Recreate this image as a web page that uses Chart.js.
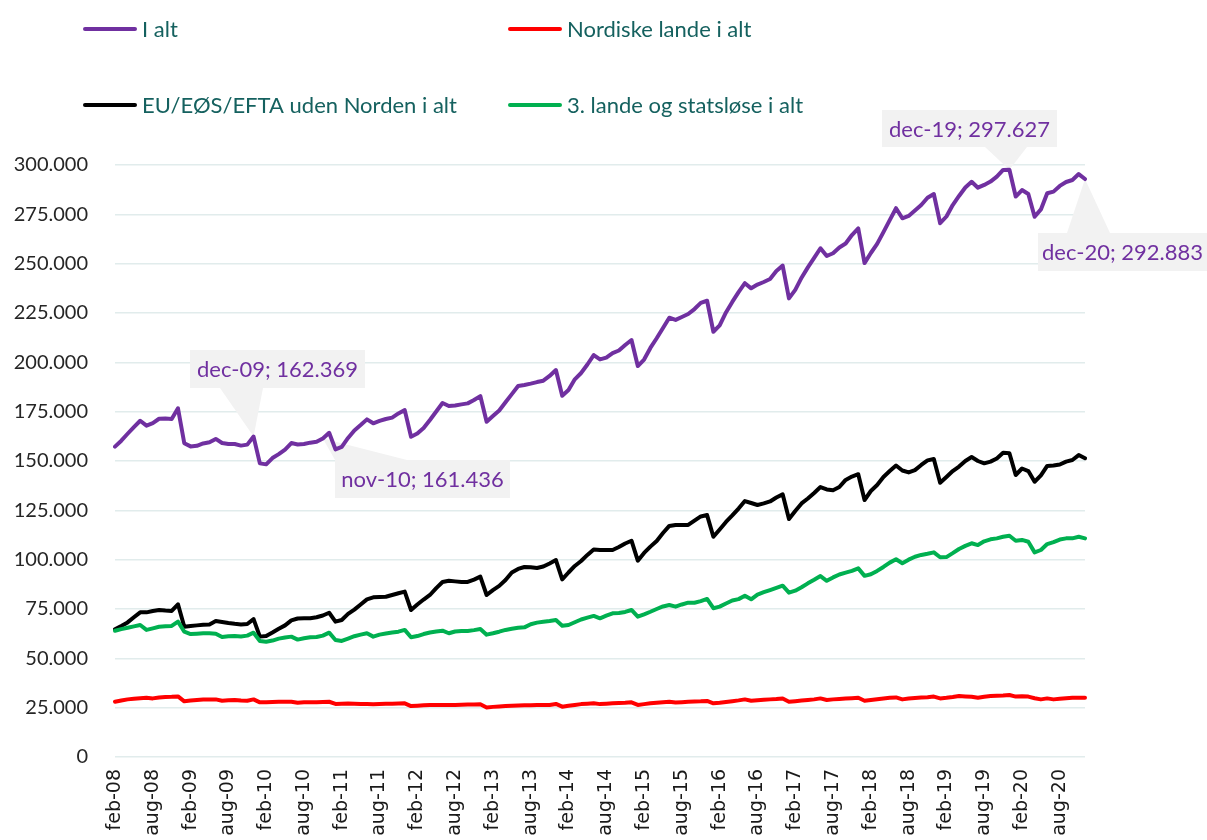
<!DOCTYPE html>
<html>
<head>
<meta charset="utf-8">
<script src="https://cdn.jsdelivr.net/npm/chart.js@4.4.1/dist/chart.umd.min.js"></script>
<style>
html,body{margin:0;padding:0;background:#ffffff;overflow:hidden;}
#wrap{position:relative;width:1207px;height:840px;}
</style>
</head>
<body>
<div id="wrap"><canvas id="c" width="1207" height="840"></canvas></div>
<script>
// ---------- DATA ----------
const monthNames = ['jan','feb','mar','apr','maj','jun','jul','aug','sep','okt','nov','dec'];
const yearLabels = ['08','09','10','11','12','13','14','15','16','17','18','19','20'];
const firstMonthIndex = 1; // series starts feb-08

const seriesNames = ['I alt','Nordiske lande i alt','EU/EØS/EFTA uden Norden i alt','3. lande og statsløse i alt'];

const iAlt = [
 157300,160300,163800,167200,170400,167900,169200,171400,171500,171300,176700,
 159000,157400,157700,158900,159500,161200,159100,158600,158600,157800,158300,162369,
 148800,148300,151500,153500,155800,159100,158400,158600,159300,159700,161436,164300,
 155900,157200,161700,165500,168200,171100,169100,170300,171300,172000,174100,175800,
 162300,163900,166700,170800,175100,179400,177900,178100,178700,179200,180900,182900,
 169900,172800,175600,179800,183900,188000,188500,189200,190000,190700,193100,196100,
 183100,186000,191400,194600,198900,203700,201500,202400,204700,206000,208800,211300,
 198100,201400,207300,212200,217400,222600,221500,223000,224500,227000,230100,231200,
 215500,218700,225300,230600,235600,240100,237500,239400,240700,242200,246300,249000,
 232400,236700,242900,248100,252900,257800,253900,255300,258200,260200,264500,267900,
 250300,255400,260000,266000,272100,278100,273000,274200,276900,279700,283400,285300,
 270500,273900,279700,284300,288600,291500,288500,289900,291600,294100,297500,297627,
 284000,287300,285300,273800,277500,285700,286500,289400,291400,292400,295400,292883
];

const nordiske = [
 28000,28600,29200,29500,29800,30000,29700,30200,30400,30500,30700,
 28200,28600,28900,29100,29200,29200,28500,28700,28900,28600,28500,29200,
 27700,27800,27900,28000,28000,28000,27500,27700,27800,27800,27900,28000,
 26900,27000,27100,27000,26900,26800,26700,26900,27000,27000,27100,27200,
 25800,26000,26200,26400,26400,26400,26300,26400,26500,26600,26600,26700,
 25100,25400,25600,25800,26000,26100,26200,26200,26300,26400,26400,26900,
 25500,26000,26400,26800,27000,27200,26800,27000,27200,27400,27500,27700,
 26400,26800,27200,27500,27800,28000,27600,27800,28000,28100,28200,28400,
 27200,27500,27900,28300,28700,29200,28500,28800,29000,29200,29400,29700,
 28000,28300,28600,28900,29200,29700,28900,29200,29400,29600,29800,30000,
 28500,28900,29300,29700,30000,30200,29200,29600,29900,30100,30300,30600,
 29700,30000,30400,30900,30700,30500,30000,30500,30900,31100,31200,31400,
 30600,30800,30600,29800,29200,29700,29200,29500,29800,30000,30000,30000
];

const euEoes = [
 64700,66400,68200,70800,73300,73300,74000,74500,74200,74000,77400,
 66000,66400,66700,67000,67200,68900,68400,67900,67500,67200,67400,69900,
 61000,61300,63100,65000,66700,69200,70200,70300,70300,70800,71700,73100,
 68600,69400,72500,74700,77300,79900,80900,81100,81200,82100,83000,83800,
 74500,77300,79800,82100,85600,88700,89300,89000,88700,88700,89900,91400,
 82100,84600,86700,89700,93500,95300,96300,96100,95800,96500,98100,99800,
 90000,93500,96800,99300,102400,105200,104900,104900,104900,106400,108200,109600,
 99500,103400,106600,109500,113500,117100,117600,117600,117600,119800,121900,122600,
 111600,115300,119100,122400,125900,129700,128700,127700,128500,129500,131500,133100,
 120600,124700,128500,131000,133800,136800,135600,135200,136800,140400,142100,143300,
 130200,134800,137800,141900,144900,147700,145200,144200,145400,148000,150300,151000,
 139000,141900,144900,147200,150000,152000,150000,148800,149700,151300,154200,153900,
 142900,146200,144900,139500,142700,147500,147700,148200,149700,150500,153000,151400
];

const tredjeLande = [
 64000,64800,65500,66200,66900,64400,65200,66000,66200,66400,68600,
 63500,62300,62500,62700,62700,62500,60800,61200,61300,61100,61500,63000,
 58800,58400,59000,60000,60600,61000,59500,60200,60700,60800,61500,63000,
 59300,58800,60000,61200,62000,62700,61000,62000,62600,63100,63500,64400,
 60700,61300,62300,63100,63600,64000,62700,63600,63900,63900,64300,64900,
 62000,62700,63500,64400,65000,65500,65700,67300,68100,68500,68900,69400,
 66500,66900,68300,69700,70600,71500,70300,71600,72800,73000,73500,74500,
 71100,72300,73600,75000,76300,77000,76200,77300,78200,78200,79000,80100,
 75400,76200,77800,79300,80000,81700,79900,82300,83500,84600,85700,86800,
 83300,84300,86000,88000,89800,91700,89300,91000,92500,93400,94300,95600,
 91800,92600,94300,96300,98500,100200,98200,100000,101500,102400,103000,103700,
 101200,101300,103300,105400,107000,108300,107400,109300,110300,110800,111600,112100,
 109600,110000,109100,103700,104900,107900,108900,110200,110800,110800,111600,110800
];

// category labels "feb-08" ... "dec-20"
const categories = [];
yearLabels.forEach((yy, yi) => {
  monthNames.forEach((m, mi) => {
    if (yi === 0 && mi < firstMonthIndex) return;
    categories.push(m + '-' + yy);
  });
});

const yTicks = [0,25000,50000,75000,100000,125000,150000,175000,200000,225000,250000,275000,300000];
const xTickEvery = 6;
const calloutIndices = [22, 33, 142, 154];

// ---------- STYLE ----------
const colors = ['#7030A0','#FF0000','#000000','#00B050'];
const fmt = v => String(Math.round(v)).replace(/\B(?=(\d{3})+(?!\d))/g, '.');

const legendPos = [
  {x:83, y:29}, {x:508, y:29}, {x:83, y:105}, {x:508, y:105}
];
const calloutBoxes = [
  {x:190, y:350, w:175, h:38, side:'bottom', b0:220, b1:263},
  {x:335, y:460, w:175, h:38, side:'top', b0:335, b1:407},
  {x:882, y:110, w:175, h:37, side:'bottom', b0:985, b1:1027},
  {x:1038, y:233, w:169, h:38, side:'top', b0:1067, b1:1110}
];

const legendPlugin = {
  id: 'gridLegend',
  afterDraw(chart) {
    const ctx = chart.ctx;
    ctx.save();
    chart.data.datasets.forEach((ds, i) => {
      const p = legendPos[i];
      ctx.strokeStyle = ds.borderColor;
      ctx.lineWidth = 4;
      ctx.lineCap = 'round';
      ctx.beginPath();
      ctx.moveTo(p.x + 2, p.y);
      ctx.lineTo(p.x + 52, p.y);
      ctx.stroke();
      ctx.fillStyle = '#15615F';
      ctx.font = '22px Lato';
      ctx.textBaseline = 'middle';
      ctx.textAlign = 'left';
      ctx.fillText(ds.label, p.x + 59, p.y + 1);
    });
    ctx.restore();
  }
};

const calloutPlugin = {
  id: 'callouts',
  beforeDatasetsDraw(chart) {
    const ctx = chart.ctx;
    const xs = chart.scales.x, ys = chart.scales.y;
    ctx.save();
    calloutIndices.forEach((idx, k) => {
      const b = calloutBoxes[k];
      const val = iAlt[idx];
      const tx = xs.getPixelForValue(idx);
      const ty = ys.getPixelForValue(val);
      ctx.fillStyle = '#F2F2F2';
      ctx.fillRect(b.x, b.y, b.w, b.h);
      const ey = b.side === 'bottom' ? b.y + b.h : b.y;
      ctx.beginPath();
      ctx.moveTo(b.b0, ey);
      ctx.lineTo(tx, ty);
      ctx.lineTo(b.b1, ey);
      ctx.closePath();
      ctx.fill();
      ctx.fillStyle = '#7030A0';
      ctx.font = '22px Lato';
      ctx.textAlign = 'center';
      ctx.textBaseline = 'middle';
      ctx.fillText(categories[idx] + '; ' + fmt(val), b.x + b.w / 2, b.y + b.h / 2 + 1);
    });
    ctx.restore();
  }
};

const seriesData = [iAlt, nordiske, euEoes, tredjeLande];
const drawOrder = [4, 3, 2, 1];

new Chart(document.getElementById('c'), {
  type: 'line',
  data: {
    labels: categories,
    datasets: seriesData.map((d, i) => ({
      label: seriesNames[i],
      data: d,
      borderColor: colors[i],
      backgroundColor: colors[i],
      borderWidth: 4,
      pointRadius: 0,
      pointHoverRadius: 0,
      tension: 0,
      fill: false,
      borderJoinStyle: 'round',
      borderCapStyle: 'round',
      order: drawOrder[i]
    }))
  },
  options: {
    responsive: false,
    animation: false,
    devicePixelRatio: 1,
    layout: { padding: { top: 165, right: 122, left: 0, bottom: 0 } },
    plugins: {
      legend: { display: false },
      tooltip: { enabled: false }
    },
    scales: {
      x: {
        type: 'category',
        offset: false,
        grid: { display: false, drawTicks: false },
        border: { display: false },
        ticks: {
          autoSkip: false,
          maxRotation: 90,
          minRotation: 90,
          padding: 12,
          color: '#1a1a1a',
          font: { family: 'DejaVu Sans', size: 19 },
          callback: function(value, index) {
            return index % xTickEvery === 0 ? categories[index] : '';
          }
        },
        afterFit(scale) { scale.height = 83; }
      },
      y: {
        min: 0,
        max: 300000,
        afterBuildTicks(scale) { scale.ticks = yTicks.map(v => ({ value: v })); },
        grid: { color: '#E1ECEC', lineWidth: 1.5, drawTicks: false },
        border: { display: false },
        ticks: {
          padding: 27,
          color: '#262626',
          font: { family: 'Lato', size: 20 },
          callback: v => fmt(v)
        },
        afterFit(scale) { scale.width = 115; }
      }
    }
  },
  plugins: [calloutPlugin, legendPlugin]
});
</script>
</body>
</html>
